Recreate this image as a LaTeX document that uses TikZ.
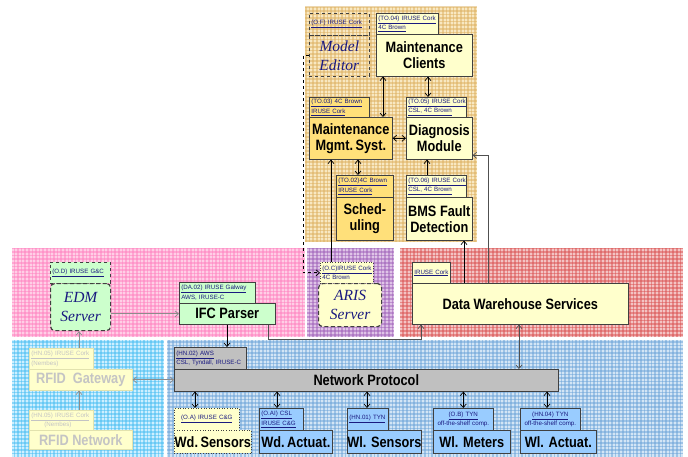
\documentclass[tikz,border=0pt]{standalone}
\usepackage{fontspec}
\setmainfont{Liberation Sans}
\newfontfamily\lblfont[FakeStretch=0.85]{Liberation Sans}
\newfontfamily\itserif{Liberation Serif}
\usetikzlibrary{arrows.meta}

\definecolor{beigeB}{HTML}{F8E8C2}\definecolor{beigeL}{HTML}{DDB060}
\definecolor{pinkB}{HTML}{FFCFE6}\definecolor{pinkL}{HTML}{FF80C0}
\definecolor{purpB}{HTML}{DFC4E7}\definecolor{purpL}{HTML}{9E5FB8}
\definecolor{redB}{HTML}{F3C4C4}\definecolor{redL}{HTML}{DA5050}
\definecolor{cyanB}{HTML}{CDEFFF}\definecolor{cyanL}{HTML}{45BDF2}
\definecolor{blueB}{HTML}{D3E5F5}\definecolor{blueL}{HTML}{6AA2D8}
\definecolor{ltyellow}{HTML}{FFFFCC}
\definecolor{dkyellow}{HTML}{FFE07A}
\definecolor{ltgreen}{HTML}{CCFFCC}
\definecolor{ltblue}{HTML}{99CCFF}
\definecolor{npgray}{HTML}{C0C0C0}
\definecolor{boxline}{HTML}{404040}
\definecolor{navy}{HTML}{1A1A80}
\definecolor{fadeline}{HTML}{E2E2AE}
\definecolor{fadetext}{HTML}{C4C4C4}
\definecolor{arrowgray}{HTML}{8C8C8C}
\definecolor{darkline}{HTML}{505050}

% gingham-textured background area: x1 y1 x2 y2 base-colour line-colour
\newcommand\gingham[6]{%
  \begin{scope}
    \clip (#1,#2) rectangle (#3,#4);
    \fill[#5] (#1,#2) rectangle (#3,#4);
    \draw[#6, line width=1.6pt, opacity=.5, xstep=3.6pt, ystep=2000pt] (#1,#4) grid (#3,#2);
    \draw[#6, line width=1.6pt, opacity=.5, xstep=2000pt, ystep=3.6pt] (#1,#4) grid (#3,#2);
  \end{scope}}

\tikzset{
  base/.style={draw=boxline, line width=0.6pt, anchor=north west, inner sep=0pt},
  mainbox/.style={base, align=center, font=\lblfont\bfseries\fontsize{15}{16}\selectfont},
  hdrbox/.style={base, inner xsep=2pt, align=left, font=\fontsize{6.2}{9.5}\selectfont, text=navy},
  serifbox/.style={base, align=center, font=\itserif\itshape\fontsize{15.5}{19}\selectfont, text=navy},
  faded/.style={draw=fadeline, text=fadetext},
  tipb/.tip={Straight Barb[length=3.5pt,width=6pt]},
  conn/.style={line width=0.7pt, -tipb},
  dconn/.style={line width=0.7pt, tipb-tipb},
}

\begin{document}
\begin{tikzpicture}[x=1pt, y=-1pt]
\useasboundingbox (0,0) rectangle (688,457);
\fill[white] (0,0) rectangle (688,457);

% background areas
\gingham{305}{7}{477}{242}{beigeB}{beigeL}
\gingham{12}{248}{305}{337}{pinkB}{pinkL}
\gingham{307}{248}{394}{337}{purpB}{purpL}
\gingham{400}{248}{683}{337}{redB}{redL}
\gingham{12}{340}{164}{457}{cyanB}{cyanL}
\gingham{167}{340}{683}{457}{blueB}{blueL}

% ---- top area ----
\node[hdrbox, dashed, text width=56pt, minimum height=22pt] (meh) at (309,13) {\underline{(O.F) IRUSE Cork}};
\node[serifbox, dashed, minimum width=60pt, minimum height=41pt] (me) at (309,35) {Model\\Editor};

\node[hdrbox, fill=ltyellow, text width=58pt, minimum height=21pt] (mch) at (376,13) {\underline{(TO.04) IRUSE Cork}\\\underline{4C Brown}};
\node[mainbox, fill=ltyellow, minimum width=96pt, minimum height=42pt] (mc) at (376,34) {Maintenance\\Clients};

\node[hdrbox, fill=dkyellow, text width=56pt, minimum height=20pt] (mmsh) at (309,97) {\underline{(TO.03) 4C Brown}\\\underline{IRUSE Cork}};
\node[mainbox, fill=dkyellow, minimum width=83pt, minimum height=42pt] (mms) at (309,117) {Maintenance\\Mgmt.\,Syst.};

\node[hdrbox, fill=ltyellow, text width=56pt, minimum height=20pt] (dmh) at (406,97) {\underline{(TO.05) IRUSE Cork}\\\underline{CSL, 4C Brown}};
\node[mainbox, fill=ltyellow, minimum width=66pt, minimum height=42pt] (dm) at (406,117) {Diagnosis\\Module};

\node[hdrbox, fill=dkyellow, text width=53pt, minimum height=22pt] (schh) at (336,175) {\underline{(TO.02)4C Brown}\\\underline{IRUSE Cork}};
\node[mainbox, fill=dkyellow, minimum width=57pt, minimum height=43pt] (sch) at (336,197) {Sched-\\uling};

\node[hdrbox, fill=ltyellow, text width=56pt, minimum height=22pt] (bmsh) at (406,175) {\underline{(TO.06) IRUSE Cork}\\\underline{CSL, 4C Brown}};
\node[mainbox, fill=ltyellow, minimum width=66pt, minimum height=43pt] (bms) at (406,197) {BMS Fault\\Detection};

% ---- middle row ----
\node[hdrbox, dashed, fill=ltgreen, text width=56pt, minimum height=21pt] (edmh) at (50,262) {\underline{(O.D) IRUSE G\&C}};
\node[serifbox, fill=ltgreen, line width=1.2pt, dash pattern=on 4pt off 2.5pt, rounded corners=4pt, minimum width=60pt, minimum height=47pt] (edm) at (50,283) {EDM\\Server};

\node[hdrbox, fill=ltgreen, text width=72pt, minimum height=21pt] (ifch) at (179,282) {\underline{(DA.02) IRUSE Galway}\\AWS, IRUSE-C};
\node[mainbox, fill=ltgreen, minimum width=96pt, minimum height=21pt] (ifc) at (179,303) {IFC Parser};

\node[hdrbox, dotted, fill=ltyellow, text width=49pt, minimum height=21pt] (arish) at (320,262) {\underline{(O.C)IRUSE Cork}\\4C Brown};
\node[serifbox, fill=ltyellow, line width=1.2pt, dash pattern=on 4pt off 2.5pt, rounded corners=4pt, minimum width=63pt, minimum height=43pt] (aris) at (318,283) {ARIS\\Server};

\node[hdrbox, fill=ltyellow, text width=34pt, minimum height=21pt] (dwh) at (412,262) {\underline{IRUSE Cork}};
\node[mainbox, fill=ltyellow, minimum width=216pt, minimum height=41pt] (dw) at (412,283) {Data Warehouse Services};

% ---- bottom area ----
\node[hdrbox, faded, fill=ltyellow, text width=60pt, minimum height=21pt] (rgh) at (29,348) {\underline{(HN.05) IRUSE Cork}\\(Nembes)};
\node[mainbox, faded, fill=ltyellow, minimum width=103pt, minimum height=21pt] (rg) at (29,369) {RFID\ \ Gateway};

\node[hdrbox, faded, fill=ltyellow, text width=60pt, minimum height=20pt] (rnh) at (29,410) {\underline{(HN.05) IRUSE Cork}\\\hspace*{13pt}(Nembes)};
\node[mainbox, faded, fill=ltyellow, minimum width=103pt, minimum height=19pt] (rn) at (29,430) {RFID Network};

\node[hdrbox, fill=npgray, text width=68pt, minimum height=22pt] (nph) at (174,347) {\underline{(HN.02) AWS}\\CSL, Tyndall,\ IRUSE-C};
\node[mainbox, fill=npgray, minimum width=384pt, minimum height=22pt] (np) at (174,369) {Network Protocol};

\node[hdrbox, dotted, fill=ltyellow, align=center, text width=61pt, minimum height=22pt] (wsh) at (174,408) {\underline{(O.A) IRUSE C\&G}};
\node[mainbox, dotted, fill=ltyellow, minimum width=77pt, minimum height=23pt] (ws) at (174,430) {Wd.\,Sensors};

\node[hdrbox, fill=ltblue, text width=40pt, minimum height=22pt] (wah) at (259,408) {\underline{(O.AI) CSL}\\\underline{IRUSE C\&G}};
\node[mainbox, fill=ltblue, minimum width=73pt, minimum height=23pt] (wa) at (259,430) {Wd.\,Actuat.};

\node[hdrbox, fill=ltblue, text width=37pt, minimum height=22pt] (wlsh) at (347,408) {\underline{(HN.01) TYN}};
\node[mainbox, fill=ltblue, minimum width=74pt, minimum height=23pt] (wls) at (347,430) {Wl. Sensors};

\node[hdrbox, fill=ltblue, align=center, text width=56pt, minimum height=22pt] (wmh) at (433,408) {\underline{(O.B) TYN}\\off-the-shelf comp.};
\node[mainbox, fill=ltblue, minimum width=77pt, minimum height=23pt] (wm) at (433,430) {Wl. Meters};

\node[hdrbox, fill=ltblue, align=center, text width=56pt, minimum height=22pt] (wach) at (520,408) {\underline{(HN.04) TYN}\\off-the-shelf comp.};
\node[mainbox, fill=ltblue, minimum width=76pt, minimum height=23pt] (wac) at (520,430) {Wl. Actuat.};

% ---- connectors ----
\draw[dconn] ([xshift=7pt]mc.south west) -- ([xshift=7pt]mc.south west |- mms.north);
\draw[dconn] ([xshift=52pt]mc.south west) -- ([xshift=52pt]mc.south west |- dmh.north);
\draw[dconn] (mms.east) -- (dm.west);
\draw[dconn] ([xshift=22pt]schh.north west) -- ([xshift=22pt]schh.north west |- mms.south);
\draw[conn] ([xshift=21pt]bmsh.north west) -- ([xshift=21pt]bmsh.north west |- dm.south);
\draw[conn] ([xshift=52pt]dw.north west) -- ([xshift=52pt]dw.north west |- bms.south);
\draw[conn, draw=darkline] ([xshift=76pt]dw.north west) |- ([yshift=-17pt]dm.east);
\draw[conn] ([xshift=11pt]arish.north west) -- ([xshift=11pt]arish.north west |- mms.south);
\draw[conn, dashed] (me.west) -- ++(-6,0) |- (arish.west);

\draw[conn, draw=arrowgray] (edm.east |- ifc.west) -- (ifc.west);
\draw[conn] ([xshift=48pt]ifc.south west) -- ([xshift=48pt]ifc.south west |- nph.north);
\draw[conn, draw=darkline] ([xshift=89pt]ifc.south west) -- ++(0,15) -| ([xshift=9pt]dw.south west);
\draw[dconn, draw=darkline] ([xshift=107pt]dw.south west) -- ([xshift=107pt]dw.south west |- np.north);

\draw[dconn, draw=arrowgray] (rg.east) -- (rg.east -| np.west);
\draw[conn, draw=arrowgray] ([xshift=50pt]rnh.north west) -- ([xshift=50pt]rnh.north west |- rg.south);
\draw[conn, draw=arrowgray] ([xshift=50pt]rgh.north west) -- ([xshift=50pt]rgh.north west |- edm.south);

\draw[dconn] ([xshift=21pt]wsh.north west |- np.south) -- ([xshift=21pt]wsh.north west);
\draw[dconn] ([xshift=18pt]wah.north west |- np.south) -- ([xshift=18pt]wah.north west);
\draw[dconn] ([xshift=20pt]wlsh.north west |- np.south) -- ([xshift=20pt]wlsh.north west);
\draw[dconn] (wmh.north |- np.south) -- (wmh.north);
\draw[dconn] ([xshift=27pt]wach.north west |- np.south) -- ([xshift=27pt]wach.north west);
\end{tikzpicture}
\end{document}
